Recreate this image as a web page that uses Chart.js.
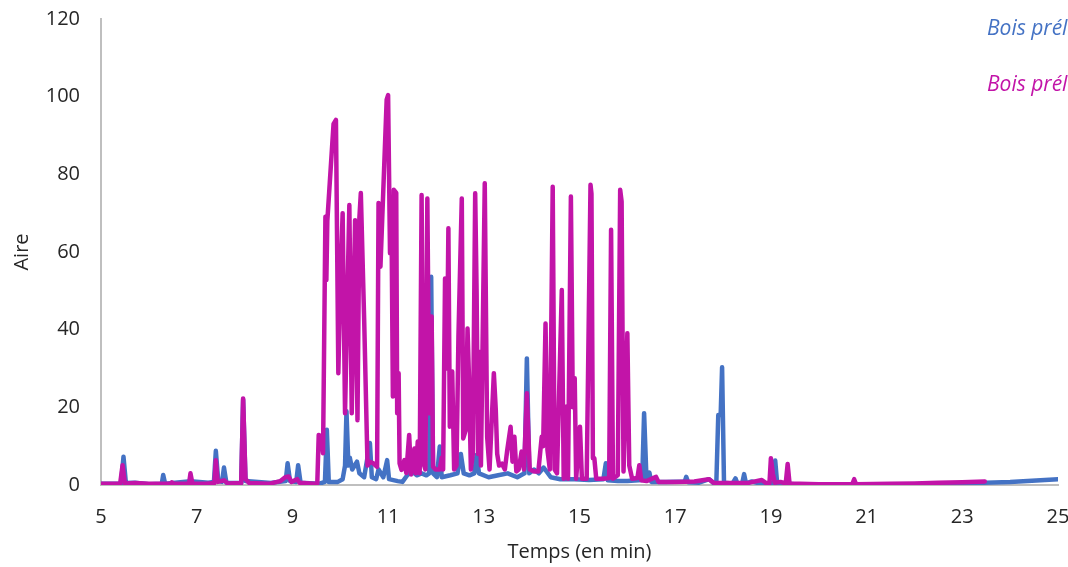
<!DOCTYPE html>
<html>
<head>
<meta charset="utf-8">
<script src="https://cdn.jsdelivr.net/npm/chart.js@4"></script>
<style>
  body { margin: 0; background: #fff; }
</style>
</head>
<body>
<canvas id="chromato" width="1068" height="567"></canvas>
<script>
const blueTime = [5.00,5.42,5.47,5.52,5.71,6.00,6.27,6.30,6.34,6.87,7.24,7.36,7.40,7.45,7.53,7.57,7.62,7.93,7.97,8.02,
  8.55,8.70,8.86,8.90,8.95,9.08,9.12,9.17,9.55,9.68,9.72,9.76,9.95,10.05,10.10,10.13,10.17,10.20,10.25,10.35,
  10.40,10.50,10.62,10.66,10.75,10.80,10.90,10.98,11.02,11.20,11.30,11.40,11.50,11.60,11.70,11.80,11.86,11.90,11.94,12.02,
  12.08,12.12,12.30,12.45,12.52,12.58,12.70,12.80,12.85,12.90,13.10,13.30,13.50,13.70,13.85,13.90,13.95,14.05,14.15,14.25,
  14.40,14.60,14.90,15.20,15.50,15.55,15.59,15.80,16.00,16.31,16.35,16.40,16.46,16.50,16.80,17.20,17.23,17.27,17.50,17.71,
  17.80,17.86,17.90,17.95,17.98,18.02,18.20,18.26,18.30,18.40,18.44,18.48,18.60,18.80,19.05,19.09,19.13,19.50,20.00,21.00,
  22.00,23.00,24.00,25.00];
const blueArea = [0.3,0.4,7.3,0.5,0.6,0.2,0.3,2.6,0.3,1.0,0.6,0.8,8.8,1.0,0.8,4.5,0.6,0.5,22,1.0,
  0.5,0.8,1.0,5.6,1.0,0.8,5.1,0.6,0.3,0.8,14.2,0.8,0.8,1.5,5,19,5,7,4,6,
  3,2,10.8,2,1.5,4,2,6.4,1.5,1,0.8,2.5,3.5,2.5,3,2.5,3,53.6,3,2,
  9.9,2,2.5,3,8,3,2.5,3,7.7,3,2,2.5,3,2,3,32.6,3,4,3,4.5,
  2,1.5,1.5,1.3,1.5,5.6,1.2,1.0,1.0,1.3,18.5,1.5,3.2,0.8,0.8,0.9,2.1,0.7,0.6,1.5,
  0.5,0.7,18,18,30.3,0.6,0.4,1.7,0.4,0.4,2.8,0.4,0.9,0.3,0.5,6.3,0.5,0.2,0.1,0.1,
  0.2,0.4,0.8,1.5];

const pinkTime = [5.00,5.40,5.45,5.50,5.71,6.00,6.45,6.48,6.52,6.84,6.87,6.91,7.20,7.37,7.40,7.44,7.57,7.65,7.93,7.97,
  8.02,8.10,8.50,8.75,8.85,8.92,8.98,9.10,9.15,9.45,9.52,9.55,9.60,9.64,9.69,9.71,9.73,9.86,9.91,9.96,
  10.00,10.05,10.10,10.19,10.24,10.31,10.36,10.40,10.43,10.50,10.57,10.62,10.69,10.77,10.80,10.84,10.97,11.00,11.04,11.07,
  11.10,11.12,11.17,11.19,11.22,11.24,11.28,11.34,11.38,11.44,11.48,11.55,11.58,11.62,11.66,11.70,11.74,11.78,11.82,11.86,
  11.91,11.94,11.99,12.08,12.12,12.15,12.19,12.23,12.26,12.29,12.34,12.38,12.43,12.47,12.54,12.57,12.62,12.66,12.69,12.73,
  12.77,12.82,12.85,12.88,12.90,12.94,13.02,13.07,13.12,13.21,13.25,13.28,13.32,13.38,13.44,13.49,13.56,13.60,13.64,13.68,
  13.73,13.79,13.84,13.90,13.96,14.05,14.14,14.21,14.24,14.29,14.33,14.38,14.44,14.48,14.53,14.63,14.67,14.73,14.76,14.82,
  14.86,14.90,14.93,15.01,15.05,15.15,15.23,15.25,15.28,15.31,15.35,15.50,15.62,15.66,15.70,15.80,15.85,15.88,15.92,16.00,
  16.04,16.10,16.21,16.25,16.29,16.40,16.60,16.65,17.00,17.40,17.70,17.80,18.20,18.55,18.81,18.90,18.97,19.00,19.04,19.08,
  19.20,19.31,19.35,19.39,19.60,20.00,20.70,20.74,20.78,21.50,22.00,22.50,23.00,23.47];
const pinkArea = [0.3,0.3,5.1,0.4,0.5,0.3,0.3,0.7,0.3,0.4,3.0,0.4,0.3,0.5,6.4,0.8,1.2,0.4,0.5,22.3,
  1.5,0.5,0.3,1.0,2.0,2.2,0.8,1.5,0.6,0.3,0.4,12.9,12.5,8.2,69.1,52.8,68,93,94,28.8,
  51,70,18.5,72.1,18.5,68.2,16.7,68.8,75.2,42.5,5,6,5.6,4.7,72.6,56.2,99.2,100.4,59.7,70,
  22.8,76,75.2,18.5,28.8,5.6,3.9,6.4,3.1,12.9,2.7,9.4,3,11.2,3,74.7,5.6,4,73.8,18.5,
  43.4,4.7,4,4,7,4,53.2,30,66.1,15,29.2,4,5,38.2,73.8,12,14,40.3,27.7,4,
  8,75.1,49.4,8,34.3,5,77.7,12.4,4,28.8,19.5,8,5,5.5,4,9,15,6,12.4,3.5,
  4,8.6,4,23.6,4,3.5,3.5,12.4,10,41.6,9,4,76.8,4,3,50.2,1.6,20.2,1.6,74.3,
  20,27.5,1.6,15,1.6,1.6,77.3,75,6.9,6.9,1.6,1.6,1.8,65.7,1.6,2.5,76,73,3.5,39.1,
  5,1.6,1.8,5.1,1.2,1.0,2.1,0.8,0.8,0.9,1.5,0.6,0.5,0.6,1.3,0.5,0.5,6.9,3,0.6,
  0.8,0.4,5.4,0.4,0.3,0.2,0.2,1.5,0.2,0.3,0.4,0.6,0.7,0.9];

const seriesNames = ['Bois prélevé 1', 'Bois prélevé 2'];
const seriesColors = ['#4472C4', '#C214A8'];
const xTicks = [5, 7, 9, 11, 13, 15, 17, 19, 21, 23, 25];

const font = { family: "'Open Sans', sans-serif", size: 20 };
const textColor = '#262626';

// étiquettes des séries écrites dans le coin haut droit (comme sur Excel)
const seriesLabels = {
  id: 'seriesLabels',
  afterDraw(chart) {
    const ctx = chart.ctx;
    ctx.save();
    ctx.font = "italic 21px 'Open Sans', sans-serif";
    ctx.textBaseline = 'middle';
    ctx.fillStyle = seriesColors[0];
    ctx.fillText(seriesNames[0], 987, 29);
    ctx.fillStyle = seriesColors[1];
    ctx.fillText(seriesNames[1], 987, 85);
    ctx.restore();
  }
};

new Chart(document.getElementById('chromato'), {
  type: 'line',
  data: {
    datasets: [{
      label: seriesNames[0],
      data: blueTime.map((t, i) => ({ x: t, y: blueArea[i] })),
      borderColor: seriesColors[0],
      borderWidth: 4.5,
      pointRadius: 0,
      order: 2
    }, {
      label: seriesNames[1],
      data: pinkTime.map((t, i) => ({ x: t, y: pinkArea[i] })),
      borderColor: seriesColors[1],
      borderWidth: 4.5,
      pointRadius: 0,
      order: 1
    }]
  },
  options: {
    responsive: false,
    animation: false,
    elements: { line: { tension: 0, borderJoinStyle: 'round', borderCapStyle: 'round' } },
    layout: { padding: { top: 19, right: 10, left: 0, bottom: 0 } },
    plugins: { legend: { display: false }, tooltip: { enabled: false } },
    scales: {
      x: {
        type: 'linear',
        min: 5, max: 25,
        afterBuildTicks: s => { s.ticks = xTicks.map(v => ({ value: v })); },
        afterFit: s => { s.height = 82; s.paddingLeft = 0; s.paddingRight = 0; },
        grid: { display: false, drawTicks: false },
        border: { color: '#BFBFBF', width: 2 },
        ticks: { font: font, color: textColor, padding: 20, maxRotation: 0 },
        title: { display: true, text: 'Temps (en min)', font: font, color: textColor, padding: { top: 0, bottom: 3 } }
      },
      y: {
        min: 0, max: 120,
        afterFit: s => { s.width = 101; s.paddingTop = 0; s.paddingBottom = 0; },
        grid: { display: false, drawTicks: false },
        border: { color: '#BFBFBF', width: 2 },
        ticks: { stepSize: 20, font: font, color: textColor, padding: 21 },
        title: { display: true, text: 'Aire', font: font, color: textColor, padding: { top: 10, bottom: 0 } }
      }
    }
  },
  plugins: [seriesLabels]
});
</script>
</body>
</html>
